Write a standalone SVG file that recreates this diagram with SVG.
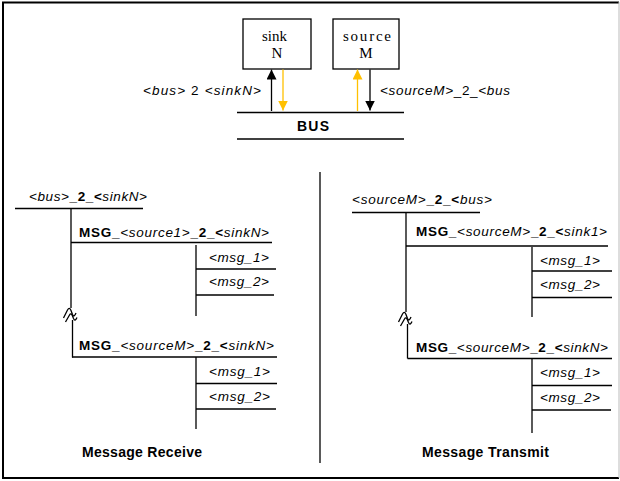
<svg xmlns="http://www.w3.org/2000/svg" width="620" height="481" viewBox="0 0 620 481">
<style>
.ln{stroke:#000;stroke-width:1.3;fill:none}
.s{font-family:"Liberation Sans",Arial,sans-serif;font-size:13.5px;fill:#000}
.i{font-style:italic}
.b{font-weight:bold}
.lb{font-size:14px}
.serif{font-family:"Liberation Serif","Times New Roman",serif;font-size:15px;fill:#000}
.box{fill:#fff;stroke:#000;stroke-width:1.3}
.ab{stroke:#000;stroke-width:1.3;fill:none}
.ay{stroke:#FFC000;stroke-width:1.3;fill:none}
</style>
<defs>
<marker id="mb" markerUnits="userSpaceOnUse" markerWidth="10" markerHeight="12" refX="10" refY="5" orient="auto"><path d="M0,0 L10,5 L0,10 z" fill="#000"/></marker>
<marker id="my" markerUnits="userSpaceOnUse" markerWidth="10" markerHeight="12" refX="10" refY="5" orient="auto"><path d="M0,0 L10,5 L0,10 z" fill="#FFC000"/></marker>
</defs>
<rect x="0" y="0" width="620" height="481" fill="#fff"/>
<g id="frame">
<line x1="2" y1="2.5" x2="619" y2="2.5" stroke="#000" stroke-width="2"/>
<line x1="3" y1="2" x2="3" y2="479" stroke="#000" stroke-width="2"/>
<line x1="2" y1="478" x2="619" y2="478" stroke="#000" stroke-width="2"/>
<line x1="619" y1="2" x2="619" y2="478" stroke="#bbb" stroke-width="1"/>
<line x1="320" y1="172" x2="320" y2="463" stroke="#000" stroke-width="1.3"/>
</g>
<g id="sinkN">
<rect class="box" x="243" y="19" width="68" height="50"/>
<text class="serif" x="262" y="41" textLength="25" lengthAdjust="spacing">sink</text>
<text class="serif" x="277" y="57.5" text-anchor="middle">N</text>
</g>
<g id="sourceM">
<rect class="box" x="333" y="19" width="66" height="50"/>
<text class="serif" x="343" y="41" textLength="48" lengthAdjust="spacing">source</text>
<text class="serif" x="366" y="57.5" text-anchor="middle">M</text>
</g>
<g id="bus">
<line class="ln" x1="237" y1="112.5" x2="404" y2="112.5" stroke-width="1.5"/>
<line class="ln" x1="237" y1="139" x2="404" y2="139" stroke-width="1.5"/>
<text class="s b lb" x="297" y="131" textLength="32" lengthAdjust="spacing">BUS</text>
</g>
<g id="connectors">
<line class="ab" x1="271.5" y1="111" x2="271.5" y2="69.5" marker-end="url(#mb)"/>
<line class="ay" x1="283" y1="69.5" x2="283" y2="110.5" marker-end="url(#my)"/>
<line class="ay" x1="357.5" y1="111" x2="357.5" y2="69.5" marker-end="url(#my)"/>
<line class="ab" x1="370" y1="69.5" x2="370" y2="110.5" marker-end="url(#mb)"/>
<text class="s" x="143" y="95" textLength="118" lengthAdjust="spacing"><tspan class="i">&lt;bus&gt;</tspan> 2 <tspan class="i">&lt;sinkN&gt;</tspan></text>
<text class="s" x="380" y="95" textLength="130" lengthAdjust="spacing"><tspan class="i">&lt;sourceM&gt;</tspan>_2_<tspan class="i">&lt;bus</tspan></text>
</g>
<g id="receive">
<text class="s" x="29" y="200.5" textLength="118" lengthAdjust="spacing"><tspan class="i">&lt;bus&gt;</tspan><tspan class="b">_2_&lt;</tspan><tspan class="i">sinkN&gt;</tspan></text>
<line class="ln" x1="15" y1="208.5" x2="143" y2="208.5"/>
<line class="ln" x1="71" y1="208.5" x2="71" y2="308"/>
<path class="ln" stroke-width="1.4" d="M63.5,318 L67.5,310 Q69.5,306.5 71,310.5 L72.5,314.5 Q74,318 76,313 M65.5,322 L69.5,315 Q71,312.5 72.5,316 L73.5,318.5 Q75,322 77,317.5"/>
<line class="ln" x1="72.5" y1="320" x2="72.5" y2="357.5"/>
<text class="s" x="79" y="237" textLength="190" lengthAdjust="spacing"><tspan class="b">MSG_</tspan><tspan class="i">&lt;source1&gt;</tspan><tspan class="b">_2_&lt;</tspan><tspan class="i">sinkN&gt;</tspan></text>
<line class="ln" x1="71" y1="242.5" x2="272" y2="242.5"/>
<line class="ln" x1="196" y1="245" x2="196" y2="316"/>
<text class="s i" x="209" y="262" textLength="60" lengthAdjust="spacing">&lt;msg_1&gt;</text>
<line class="ln" x1="196" y1="269" x2="276" y2="269"/>
<text class="s i" x="209" y="285.5" textLength="60" lengthAdjust="spacing">&lt;msg_2&gt;</text>
<line class="ln" x1="196" y1="295" x2="274" y2="295"/>
<text class="s" x="79" y="350" textLength="195" lengthAdjust="spacing"><tspan class="b">MSG_</tspan><tspan class="i">&lt;sourceM&gt;</tspan><tspan class="b">_2_&lt;</tspan><tspan class="i">sinkN&gt;</tspan></text>
<line class="ln" x1="72" y1="357" x2="277" y2="357"/>
<line class="ln" x1="196" y1="357" x2="196" y2="429"/>
<text class="s i" x="209" y="375.5" textLength="61" lengthAdjust="spacing">&lt;msg_1&gt;</text>
<line class="ln" x1="196" y1="383.5" x2="277" y2="383.5"/>
<text class="s i" x="209" y="400.5" textLength="61" lengthAdjust="spacing">&lt;msg_2&gt;</text>
<line class="ln" x1="196" y1="409" x2="276" y2="409"/>
<text class="s b lb" x="82" y="457" textLength="120" lengthAdjust="spacing">Message Receive</text>
</g>
<g id="transmit">
<text class="s" x="352" y="203.5" textLength="140" lengthAdjust="spacing"><tspan class="i">&lt;sourceM&gt;</tspan><tspan class="b">_2_&lt;</tspan><tspan class="i">bus&gt;</tspan></text>
<line class="ln" x1="352" y1="212.5" x2="480" y2="212.5"/>
<line class="ln" x1="406" y1="212.5" x2="406" y2="312"/>
<path class="ln" stroke-width="1.4" d="M398.5,322 L402.5,314 Q404.5,310.5 406,314.5 L407.5,318.5 Q409,322 411,317 M400.5,326 L404.5,319 Q406,316.5 407.5,320 L408.5,322.5 Q410,326 412,321.5"/>
<line class="ln" x1="407.5" y1="324" x2="407.5" y2="358.5"/>
<text class="s" x="416" y="235.5" textLength="191" lengthAdjust="spacing"><tspan class="b">MSG_</tspan><tspan class="i">&lt;sourceM&gt;</tspan><tspan class="b">_2_&lt;</tspan><tspan class="i">sink1&gt;</tspan></text>
<line class="ln" x1="406" y1="246" x2="608" y2="246"/>
<line class="ln" x1="532" y1="247" x2="532" y2="317"/>
<text class="s i" x="540" y="264.5" textLength="60" lengthAdjust="spacing">&lt;msg_1&gt;</text>
<line class="ln" x1="532" y1="271" x2="612" y2="271"/>
<text class="s i" x="540" y="289" textLength="60" lengthAdjust="spacing">&lt;msg_2&gt;</text>
<line class="ln" x1="532" y1="297.5" x2="612" y2="297.5"/>
<text class="s" x="416" y="351.5" textLength="192" lengthAdjust="spacing"><tspan class="b">MSG_</tspan><tspan class="i">&lt;sourceM&gt;</tspan><tspan class="b">_2_&lt;</tspan><tspan class="i">sinkN&gt;</tspan></text>
<line class="ln" x1="407.5" y1="358.5" x2="612" y2="358.5"/>
<line class="ln" x1="532" y1="359" x2="532" y2="433"/>
<text class="s i" x="540" y="376.5" textLength="60" lengthAdjust="spacing">&lt;msg_1&gt;</text>
<line class="ln" x1="532" y1="385.5" x2="612" y2="385.5"/>
<text class="s i" x="540" y="402" textLength="60" lengthAdjust="spacing">&lt;msg_2&gt;</text>
<line class="ln" x1="532" y1="410" x2="611" y2="410"/>
<text class="s b lb" x="422" y="457" textLength="127" lengthAdjust="spacing">Message Transmit</text>
</g>
</svg>
